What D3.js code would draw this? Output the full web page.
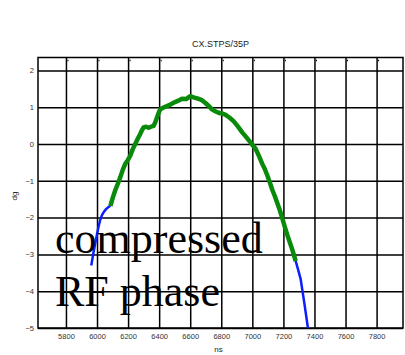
<!DOCTYPE html>
<html>
<head>
<meta charset="utf-8">
<script src="https://cdn.jsdelivr.net/npm/d3@7"></script>
<style>
  body { margin: 0; background: #fff; }
  svg { display: block; }
  .tick-label { font-family: 'Liberation Sans', Arial, sans-serif; font-size: 7.5px; fill: #333; }
  .axis-title { font-family: 'Liberation Sans', Arial, sans-serif; font-size: 8px; fill: #222; }
  .overlay { font-family: 'Liberation Serif', 'Times New Roman', serif; font-size: 44px; fill: #000; }
</style>
</head>
<body>
<div id="chart"></div>
<script>
// 图表数据
const title = 'CX.STPS/35P';
const xLabel = 'ns';
const yLabel = 'dg';
const xDomain = [5620, 7970];
const yDomain = [-5, 2.35];
const xTicks = [5800, 6000, 6200, 6400, 6600, 6800, 7000, 7200, 7400, 7600, 7800];
const yTicks = [2, 1, 0, -1, -2, -3, -4, -5];

// 蓝色段(左)
const blueLeftX = [5963, 5976, 5989, 6000, 6010, 6021, 6032, 6045, 6058, 6072, 6086];
const blueLeftY = [-3.3, -2.98, -2.69, -2.45, -2.24, -2.06, -1.93, -1.84, -1.77, -1.72, -1.68];

// 绿色段(压缩区)
const greenX = [6086, 6102, 6118, 6134, 6150, 6166, 6182, 6198, 6214, 6230, 6246, 6262, 6278, 6290,
  6300, 6316, 6332, 6348, 6364, 6376, 6386, 6397, 6407, 6428, 6450, 6472, 6493, 6520, 6547, 6574,
  6600, 6626, 6653, 6675, 6696, 6718, 6740, 6761, 6782, 6804, 6825, 6852, 6879, 6908, 6936, 6958,
  6979, 7000, 7021, 7043, 7064, 7080, 7096, 7112, 7129, 7145, 7161, 7177, 7193, 7209, 7225, 7241,
  7257, 7268, 7279];
const greenY = [-1.68, -1.45, -1.25, -1.08, -0.9, -0.7, -0.54, -0.44, -0.32, -0.14, 0.0, 0.14, 0.27, 0.38,
  0.45, 0.47, 0.44, 0.47, 0.49, 0.6, 0.72, 0.85, 0.94, 0.99, 1.03, 1.07, 1.12, 1.17, 1.23, 1.22,
  1.3, 1.26, 1.23, 1.19, 1.12, 1.04, 0.94, 0.89, 0.85, 0.83, 0.8, 0.72, 0.62, 0.47, 0.31, 0.2,
  0.09, -0.02, -0.13, -0.33, -0.54, -0.68, -0.85, -1.04, -1.25, -1.42, -1.61, -1.8, -2.02, -2.25, -2.47, -2.67,
  -2.87, -3.02, -3.18];

// 蓝色段(右)
const blueRightX = [7279, 7295, 7311, 7335, 7358];
const blueRightY = [-3.18, -3.42, -3.67, -4.33, -5.0];

const overlayLines = ['compressed', 'RF phase'];

const width = 405;
const height = 355;
const margin = { top: 57.5, left: 38, right: 2, bottom: 27 };

const svg = d3.select('#chart')
  .append('svg')
  .attr('width', width)
  .attr('height', height);

const innerW = width - margin.left - margin.right;
const innerH = height - margin.top - margin.bottom;

const scaleX = d3.scaleLinear().domain(xDomain).range([0, innerW]);
const scaleY = d3.scaleLinear().domain(yDomain).range([innerH, 0]);

const plot = svg.append('g')
  .attr('transform', `translate(${margin.left}, ${margin.top})`);

// 网格线
const gridX = d3.axisBottom(scaleX).tickValues(xTicks).tickSize(-innerH).tickFormat('');
const gridY = d3.axisLeft(scaleY).tickValues(yTicks).tickSize(-innerW).tickFormat('');

plot.append('g')
  .attr('transform', `translate(0, ${innerH})`)
  .call(gridX)
  .call(g => g.select('.domain').remove())
  .call(g => g.selectAll('line').attr('stroke', '#000').attr('stroke-width', 1.5));

plot.append('g')
  .call(gridY)
  .call(g => g.select('.domain').remove())
  .call(g => g.selectAll('line').attr('stroke', '#000').attr('stroke-width', 1.5));

// 内侧小刻度
plot.append('g')
  .selectAll('line')
  .data(xTicks)
  .join('line')
  .attr('x1', d => scaleX(d) + 1.5)
  .attr('x2', d => scaleX(d) + 2.5)
  .attr('y1', 3)
  .attr('y2', 3)
  .attr('stroke', '#000')
  .attr('stroke-width', 1.5);

// 边框
plot.append('rect')
  .attr('width', innerW)
  .attr('height', innerH)
  .attr('fill', 'none')
  .attr('stroke', '#000')
  .attr('stroke-width', 1.5);

// 刻度文字
const axisBottom = d3.axisBottom(scaleX).tickValues(xTicks).tickFormat(d3.format('d')).tickSize(0).tickPadding(6);
plot.append('g')
  .attr('transform', `translate(0, ${innerH})`)
  .call(axisBottom)
  .call(g => g.select('.domain').remove())
  .call(g => g.selectAll('text').attr('class', 'tick-label'));

const axisLeft = d3.axisLeft(scaleY).tickValues(yTicks).tickFormat(d3.format('d')).tickSize(0).tickPadding(4);
plot.append('g')
  .call(axisLeft)
  .call(g => g.select('.domain').remove())
  .call(g => g.selectAll('text').attr('class', 'tick-label'));

// 标题与轴名
svg.append('text')
  .attr('class', 'axis-title')
  .attr('x', margin.left + innerW / 2)
  .attr('y', 47)
  .attr('text-anchor', 'middle')
  .style('font-size', '9px')
  .text(title);

svg.append('text')
  .attr('class', 'axis-title')
  .attr('x', margin.left + innerW / 2 - 2)
  .attr('y', 352)
  .attr('text-anchor', 'middle')
  .text(xLabel);

svg.append('text')
  .attr('class', 'axis-title')
  .attr('transform', `translate(17, 196) rotate(-90)`)
  .attr('text-anchor', 'middle')
  .text(yLabel);

// 覆盖文字
svg.append('g')
  .selectAll('text')
  .data(overlayLines)
  .join('text')
  .attr('class', 'overlay')
  .attr('x', 55)
  .attr('y', (d, i) => 253 + i * 53)
  .text(d => d);

// 曲线
const line = d3.line()
  .x(d => scaleX(d[0]))
  .y(d => scaleY(d[1]));

const zip = (xs, ys) => xs.map((x, i) => [x, ys[i]]);

plot.append('path')
  .attr('d', line(zip(blueLeftX, blueLeftY)))
  .attr('fill', 'none')
  .attr('stroke', '#0a1eff')
  .attr('stroke-width', 2.5);

plot.append('path')
  .attr('d', line(zip(blueRightX, blueRightY)))
  .attr('fill', 'none')
  .attr('stroke', '#0a1eff')
  .attr('stroke-width', 2.5);

plot.append('path')
  .attr('d', line(zip(greenX, greenY)))
  .attr('fill', 'none')
  .attr('stroke', '#0a8a0a')
  .attr('stroke-width', 4.5)
  .attr('stroke-linejoin', 'round');
</script>
</body>
</html>
